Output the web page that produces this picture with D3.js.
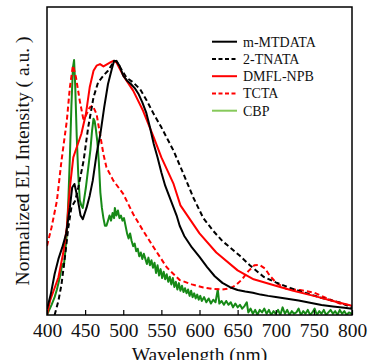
<!DOCTYPE html>
<html>
<head>
<meta charset="utf-8">
<script src="https://cdn.jsdelivr.net/npm/d3@7"></script>
<style>
    body { margin: 0; background: #fff; }
    .line { fill: none; stroke-width: 2; stroke-linejoin: round; }
    text { font-family: "Liberation Serif", "Times New Roman", serif; fill: #111; }
</style>
</head>
<body>
<div id="chart"></div>
<script>

// Series names and tick labels
var seriesNames = ["m-MTDATA", "2-TNATA", "DMFL-NPB", "TCTA", "CBP"];
var xTicks = [400, 450, 500, 550, 600, 650, 700, 750, 800];

// m-MTDATA (black solid)
var mtdataNm = [400, 405, 410, 415, 420, 425, 430, 433, 436, 440, 444, 447, 452, 456, 460, 465, 470, 475, 480, 485, 488, 491, 495, 500,
    505, 510, 515, 520, 525, 530, 535, 540, 545, 550, 555, 560, 565, 570, 574, 580, 590, 600, 610, 620, 630, 640, 650, 660, 670, 680,
    690, 700, 715, 730, 745, 760, 775, 790, 800];
var mtdataVal = [0.024, 0.082, 0.161, 0.22, 0.265, 0.318, 0.422, 0.5, 0.514, 0.461, 0.39, 0.376, 0.422, 0.468, 0.527, 0.631, 0.71, 0.814, 0.906, 0.965, 0.997, 0.995, 0.978, 0.939,
    0.919, 0.906, 0.89, 0.867, 0.834, 0.795, 0.736, 0.671, 0.618, 0.559, 0.507, 0.468, 0.429, 0.39, 0.35, 0.31, 0.265, 0.228, 0.188, 0.152, 0.126, 0.109, 0.098, 0.092, 0.087, 0.08,
    0.075, 0.071, 0.064, 0.057, 0.048, 0.039, 0.033, 0.028, 0.024];

// 2-TNATA (black dashed)
var tnataNm = [410, 415, 419, 424, 428, 432, 437, 441, 448, 454, 461, 467, 474, 480, 487, 491, 496, 504, 513, 522, 531, 540, 550, 566,
    579, 592, 605, 618, 630, 640, 653, 666, 684, 700, 719, 736, 758, 784, 800];
var tnataVal = [0, 0.056, 0.12, 0.24, 0.344, 0.422, 0.448, 0.5, 0.605, 0.736, 0.854, 0.912, 0.939, 0.958, 0.991, 0.997, 0.971, 0.932, 0.912, 0.886, 0.84, 0.788, 0.736, 0.644,
    0.553, 0.46, 0.38, 0.33, 0.29, 0.265, 0.232, 0.195, 0.15, 0.128, 0.106, 0.089, 0.069, 0.049, 0.03];

// DMFL-NPB (red solid)
var npbNm = [400, 404, 415, 421, 426, 430, 434.5, 439, 445, 451, 456, 461, 465, 469.5, 474, 478, 483, 487, 491, 500, 513, 526, 540, 550,
    566, 575, 600, 622, 650, 671, 700, 723, 750, 775, 800];
var npbVal = [0, 0.056, 0.148, 0.239, 0.344, 0.5, 0.618, 0.658, 0.71, 0.788, 0.893, 0.958, 0.978, 0.984, 0.975, 0.982, 0.991, 0.997, 0.991, 0.939, 0.88, 0.801, 0.697, 0.618,
    0.514, 0.43, 0.32, 0.245, 0.175, 0.14, 0.115, 0.095, 0.075, 0.055, 0.036];

// TCTA (red dashed)
var tctaNm = [400, 406, 413, 419, 426, 430, 434, 438, 443, 447.6, 451, 456, 460, 465, 469.5, 474, 478, 487, 500, 513, 526, 540, 557, 574,
    590, 605, 618, 630, 640, 648, 656, 664, 672, 679, 686, 692, 701, 714, 732, 750, 767, 784, 800];
var tctaVal = [0.271, 0.344, 0.448, 0.605, 0.762, 0.893, 0.978, 0.932, 0.84, 0.769, 0.782, 0.814, 0.821, 0.788, 0.71, 0.631, 0.579, 0.527, 0.475, 0.396, 0.331, 0.265, 0.187, 0.137,
    0.12, 0.108, 0.102, 0.1, 0.104, 0.118, 0.14, 0.172, 0.195, 0.196, 0.182, 0.155, 0.125, 0.102, 0.098, 0.088, 0.066, 0.045, 0.037];

// CBP (green, noisy)
var cbpNm = [400, 403, 406, 410, 413, 417, 420, 422, 424, 426, 428, 430, 432, 434, 435.5, 437, 439, 441, 443, 445, 447, 449, 451, 453,
    455, 457, 459, 461, 462.5, 464, 466, 468, 470, 472, 474, 476, 478, 480, 482, 484, 486, 488, 489, 491, 493, 495, 497, 499,
    501, 503, 505, 507, 509, 511, 513, 515, 517, 519, 521, 523, 525, 527, 529, 531, 533, 535, 537, 539, 541, 543, 545, 547,
    549, 551, 553, 555, 557, 559, 561, 563, 565, 567, 569, 571, 573, 575, 577, 579, 581, 583, 585, 587, 589, 591, 593, 595,
    597, 599, 601, 603, 606, 609, 612, 615, 618, 621, 624, 626, 629, 632, 635, 638, 641, 644, 647, 650, 653, 656, 659, 662,
    664, 667, 670, 673, 676, 679, 682, 685, 688, 691, 694, 697, 700, 703, 706, 709, 712, 715, 718, 721, 724, 727, 730, 733,
    736, 739, 742, 745, 748, 751, 754, 757, 760, 763, 766, 769, 772, 775, 778, 781, 784, 787, 790, 793, 796, 800];
var cbpVal = [0, 0.02, 0.04, 0.07, 0.1, 0.15, 0.2, 0.19, 0.25, 0.32, 0.45, 0.62, 0.82, 0.97, 1.0, 0.9, 0.7, 0.55, 0.45, 0.43, 0.42, 0.46, 0.5, 0.55,
    0.6, 0.65, 0.72, 0.77, 0.76, 0.73, 0.68, 0.6, 0.48, 0.42, 0.38, 0.35, 0.35, 0.37, 0.39, 0.37, 0.4, 0.38, 0.42, 0.39, 0.41, 0.38, 0.39, 0.37,
    0.38, 0.35, 0.32, 0.3, 0.32, 0.29, 0.27, 0.28, 0.25, 0.26, 0.23, 0.245, 0.22, 0.24, 0.22, 0.2, 0.225, 0.195, 0.215, 0.185, 0.205, 0.165, 0.195, 0.155,
    0.18, 0.145, 0.17, 0.14, 0.16, 0.13, 0.15, 0.12, 0.145, 0.11, 0.13, 0.1, 0.125, 0.095, 0.115, 0.09, 0.105, 0.085, 0.1, 0.075, 0.095, 0.07, 0.085, 0.065,
    0.08, 0.06, 0.075, 0.055, 0.07, 0.05, 0.065, 0.045, 0.06, 0.05, 0.1, 0.045, 0.055, 0.04, 0.055, 0.04, 0.05, 0.03, 0.045, 0.03, 0.04, 0.025, 0.035, 0.05,
    0.01, 0.025, 0.005, 0.02, 0, 0.02, 0.01, 0.025, 0.005, 0.02, 0, 0.015, 0.005, 0.02, 0, 0.03, 0.005, 0.02, 0, 0.015, 0.005, 0.01, 0.025, 0,
    0.015, 0.005, 0.02, 0, 0.01, 0.025, 0, 0.015, 0.005, 0.02, 0, 0.01, 0.02, 0.005, 0.015, 0, 0.02, 0.005, 0.015, 0, 0.01, 0.005];

// Build series list for drawing
function zip(nm, val) {
    return nm.map(function (d, i) { return { nm: d, v: val[i] }; });
}
var series = [
    { name: seriesNames[0], data: zip(mtdataNm, mtdataVal), color: "#000", dash: null, legendColor: "#000" },
    { name: seriesNames[1], data: zip(tnataNm, tnataVal), color: "#000", dash: "5,3", legendColor: "#000" },
    { name: seriesNames[2], data: zip(npbNm, npbVal), color: "#ff0000", dash: null, legendColor: "#ff0000" },
    { name: seriesNames[3], data: zip(tctaNm, tctaVal), color: "#ff0000", dash: "5,3", legendColor: "#ff0000" },
    { name: seriesNames[4], data: zip(cbpNm, cbpVal), color: "#178a17", dash: null, legendColor: "#86c95a" }
];

// Chart box
var margin = { top: 7, right: 16, bottom: 45, left: 47 };
var width = 368 - margin.left - margin.right;
var height = 360 - margin.top - margin.bottom;

var svg = d3.select("#chart")
    .append("svg")
    .attr("width", 368)
    .attr("height", 360);

var g = svg.append("g")
    .attr("transform", "translate(" + margin.left + "," + margin.top + ")");

var xScale = d3.scaleLinear().domain([400, 800]).range([0, width]);
var yScale = d3.scaleLinear().domain([0, 1.208]).range([height, 0]);

g.append("clipPath").attr("id", "plotClip")
    .append("rect").attr("x", 0).attr("y", 0).attr("width", width).attr("height", height);

var lineFunction = d3.line()
    .x(function (d) { return xScale(d.nm); })
    .y(function (d) { return yScale(d.v); });

// Draw in back-to-front order: green first
var drawOrder = [4, 3, 1, 2, 0];
drawOrder.forEach(function (i) {
    var s = series[i];
    g.append("path")
        .attr("class", "line")
        .attr("clip-path", "url(#plotClip)")
        .attr("stroke", s.color)
        .attr("stroke-dasharray", s.dash)
        .attr("stroke-width", s.dash ? 2.3 : 2)
        .attr("d", lineFunction(s.data));
});

// Frame
g.append("rect")
    .attr("width", width)
    .attr("height", height)
    .attr("fill", "none")
    .attr("stroke", "#000")
    .attr("stroke-width", 1.5);

// X axis with inward ticks
var xAxis = d3.axisBottom(xScale).tickValues(xTicks).tickSize(-5).tickPadding(8).tickFormat(d3.format("d"));
var xNode = g.append("g")
    .attr("transform", "translate(0," + height + ")")
    .call(xAxis);
xNode.select(".domain").remove();
xNode.selectAll("line").attr("stroke", "#000").attr("stroke-width", 1.2);
xNode.selectAll("text")
    .style("font-family", "Liberation Serif, serif")
    .style("font-size", "19.5px")
    .attr("fill", "#111");

// Axis titles
svg.append("text")
    .attr("x", margin.left + width / 2)
    .attr("y", 361)
    .attr("text-anchor", "middle")
    .style("font-size", "19.5px")
    .text("Wavelength (nm)");

svg.append("text")
    .attr("transform", "rotate(-90)")
    .attr("x", -(margin.top + height / 2))
    .attr("y", 28.5)
    .attr("text-anchor", "middle")
    .style("font-size", "19.5px")
    .text("Normalized EL Intensity ( a.u. )");

// Legend
var legend = svg.append("g");
series.forEach(function (s, i) {
    var by = 46.7 + i * 17.25;
    legend.append("line")
        .attr("x1", 212).attr("x2", 237)
        .attr("y1", by - 5).attr("y2", by - 5)
        .attr("stroke", s.legendColor)
        .attr("stroke-width", 2)
        .attr("stroke-dasharray", s.dash ? "4,2.5" : null);
    legend.append("text")
        .attr("x", 243)
        .attr("y", by)
        .style("font-size", "14px")
        .text(s.name);
});

</script>
</body>
</html>
